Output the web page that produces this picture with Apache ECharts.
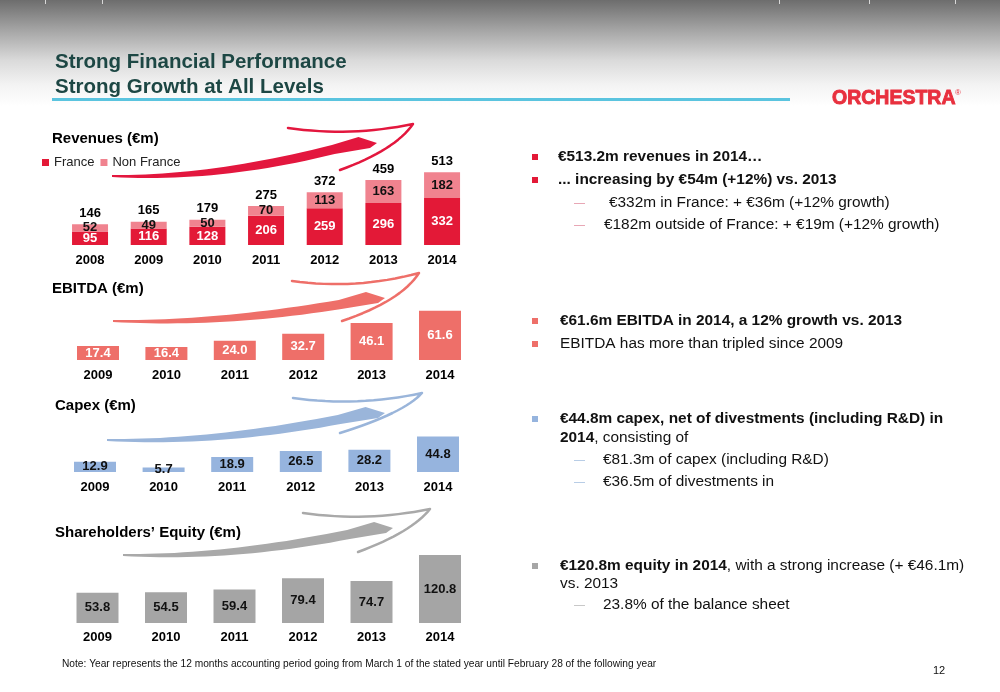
<!DOCTYPE html>
<html><head><meta charset="utf-8">
<script src="https://cdn.jsdelivr.net/npm/echarts@6/dist/echarts.min.js"></script>
<style>html,body{margin:0;padding:0;background:#fff}#c{width:1000px;height:692px}</style>
</head><body><div id="c"></div><script>
// ---- data ----
const revYears = ['2008','2009','2010','2011','2012','2013','2014'];
const revFrance = [95,116,128,206,259,296,332];
const revNonFrance = [52,49,50,70,113,163,182];
const revTotal = [146,165,179,275,372,459,513];
const years6 = ['2009','2010','2011','2012','2013','2014'];
const ebitda = [17.4,16.4,24.0,32.7,46.1,61.6];
const capex = [12.9,5.7,18.9,26.5,28.2,44.8];
const equity = [53.8,54.5,59.4,79.4,74.7,120.8];

const FONT = '"Liberation Sans", Arial, sans-serif';
const chart = echarts.init(document.getElementById('c'), null, {renderer:'canvas'});

function quad(a,c,b,n){
  const pts=[];
  for(let i=0;i<=n;i++){const t=i/n,u=1-t;
    pts.push([u*u*a[0]+2*u*t*c[0]+t*t*b[0], u*u*a[1]+2*u*t*c[1]+t*t*b[1]]);}
  return pts;
}
function swoosh(p, color){
  const [tx,ty]=p.tail, [bx,by]=p.tip, [hsx,hsy]=p.hs, [htx,hty]=p.ht, [hex,hey]=p.he;
  const W=bx-tx;
  const upper = quad([tx,ty-1],[tx+0.37*W,ty],[tx+0.83*W,by+2],24);
  const lower = quad([tx+0.84*W,by+11],[tx+0.4*W,ty+7],[tx,ty+1],24);
  const body = upper.concat([[tx+0.93*W,by-6],[bx,by],[bx-7,by+5]]).concat(lower);
  const hook = quad([hsx,hsy],[(hsx+htx)/2,Math.max(hsy,hty)+9],[htx,hty],16)
    .concat(quad([htx,hty],[htx-18,hey-20],[hex,hey],16).slice(1));
  return [
    {type:'polygon', z:1, shape:{points:body}, style:{fill:color}},
    {type:'polyline', z:1, shape:{points:hook}, style:{fill:null, stroke:color, lineWidth:2.5, lineCap:'round', lineJoin:'round'}}
  ];
}
function txt(x,y,text,opt){
  opt = opt||{};
  const st = {text:text, font:(opt.bold?'bold ':'')+(opt.size||15)+'px '+(opt.family||FONT), fill:opt.color||'#111', textVerticalAlign:'middle', textAlign:opt.align||'left'};
  if(opt.stroke){ st.stroke = opt.color; st.lineWidth = opt.stroke; }
  return {type:'text', z:5, x:x, y:y, style:st};
}
const RS = 15.4;
function rtxt(x,y,text){
  return {type:'text', z:5, x:x, y:y, style:{text:text, textVerticalAlign:'middle', fill:'#111', font:RS+'px '+FONT,
    rich:{b:{fontWeight:'bold', fontSize:RS, fontFamily:FONT, fill:'#111'}, r:{fontSize:RS, fontFamily:FONT, fill:'#111'}}}};
}
function sq(x,y,c){ return {type:'rect', z:5, shape:{x:x, y:y-3, width:6, height:6}, style:{fill:c}}; }
function dash(x,y,c){ return {type:'rect', z:5, shape:{x:x, y:y, width:11, height:1}, style:{fill:c}}; }

const graphics = [
  {type:'rect', z:0, shape:{x:0,y:0,width:1000,height:106}, style:{fill:new echarts.graphic.LinearGradient(0,0,0,1,[
    {offset:0,color:'#6d6d6d'},{offset:0.29,color:'#a6a6a6'},{offset:0.57,color:'#dadada'},{offset:0.8,color:'#f3f3f3'},{offset:1,color:'#ffffff'}])}},
  ...[45,102,779,869,955].map(x=>({type:'rect', z:1, shape:{x:x,y:0,width:1,height:4}, style:{fill:'#d8d8d8'}})),
  txt(55,62,'Strong Financial Performance',{bold:true,size:20.5,color:'#1d4744'}),
  txt(55,87,'Strong Growth at All Levels',{bold:true,size:20.5,color:'#1d4744'}),
  {type:'rect', z:2, shape:{x:52,y:98,width:738,height:3}, style:{fill:'#5bc4df'}},
  txt(832,99,'ORCHESTRA',{bold:true,size:19.5,color:'#e8303e',stroke:0.9}),
  txt(955,93,'®',{size:8,color:'#e8303e'}),
  txt(52,139,'Revenues (€m)',{bold:true,size:15,color:'#000'}),
  txt(52,289,'EBITDA (€m)',{bold:true,size:15,color:'#000'}),
  txt(55,406,'Capex (€m)',{bold:true,size:15,color:'#000'}),
  txt(55,533,'Shareholders\u2019 Equity (€m)',{bold:true,size:15,color:'#000'}),
  ...swoosh({tail:[112,176], tip:[377,143], hs:[288,128], ht:[413,124], he:[340,170]}, '#e3173e'),
  ...swoosh({tail:[113,321], tip:[385,298], hs:[292,281], ht:[419,273], he:[342,321]}, '#ee6f69'),
  ...swoosh({tail:[107,440], tip:[385,413], hs:[293,398], ht:[422,393], he:[340,433]}, '#9ab5da'),
  ...swoosh({tail:[123,555], tip:[393,528], hs:[303,513], ht:[430,509], he:[358,552]}, '#a9a9a9'),
  // right column
  sq(532,157,'#e31937'), rtxt(558,157,'{b|€513.2m revenues in 2014…}'),
  sq(532,180,'#e31937'), rtxt(558,180,'{b|... increasing by €54m (+12%) vs. 2013}'),
  dash(574,203,'#e8a7b5'), rtxt(609,203,'{r|€332m in France: + €36m (+12% growth)}'),
  dash(574,225,'#e8a7b5'), rtxt(604,225,'{r|€182m outside of France: + €19m (+12% growth)}'),
  sq(532,321,'#ee6f69'), rtxt(560,321,'{b|€61.6m EBITDA in 2014, a 12% growth vs. 2013}'),
  sq(532,344,'#ee6f69'), rtxt(560,344,'{r|EBITDA has more than tripled since 2009}'),
  sq(532,419,'#96b4de'), rtxt(560,419,'{b|€44.8m capex, net of divestments (including R&D) in}'),
  rtxt(560,438,'{b|2014}{r|, consisting of}'),
  dash(574,460,'#b8cde6'), rtxt(603,460,'{r|€81.3m of capex (including R&D)}'),
  dash(574,482,'#b8cde6'), rtxt(603,482,'{r|€36.5m of divestments in}'),
  sq(532,566,'#a6a6a6'), rtxt(560,566,'{b|€120.8m equity in 2014}{r|, with a strong increase (+ €46.1m)}'),
  rtxt(560,584,'{r|vs. 2013}'),
  dash(574,605,'#c8c8c8'), rtxt(603,605,'{r|23.8% of the balance sheet}'),
  txt(62,664,'Note: Year represents the 12 months accounting period going from March 1 of the stated year until February 28 of the following year',{size:10.2,color:'#111'}),
  txt(933,671,'12',{size:11,color:'#111'})
];

const xCommon = (gi, data, margin) => ({type:'category', gridIndex:gi, data:data,
  axisLine:{show:false}, axisTick:{show:false}, splitLine:{show:false},
  axisLabel:{fontFamily:FONT, fontWeight:'bold', fontSize:13, color:'#000', margin:margin}});
const yCommon = (gi, max) => ({type:'value', gridIndex:gi, min:0, max:max, show:false, splitLine:{show:false}});
const lbl = (color, fmt) => ({show:true, position:'inside', color:color, fontFamily:FONT, fontWeight:'bold', fontSize:13,
  formatter: fmt || (p=>p.value)});

chart.setOption({
  animation:false,
  backgroundColor:'#ffffff',
  legend:{data:['France','Non France'], left:42, top:156, icon:'rect', itemWidth:7, itemHeight:7, itemGap:6, padding:0,
    textStyle:{fontFamily:FONT, fontSize:13, color:'#222'}},
  grid:[
    {left:60.7, top:160, width:410.7, height:85},
    {left:63.8, top:300, width:410.4, height:60},
    {left:60.7, top:424.6, width:411.6, height:47.4},
    {left:63.25, top:538.5, width:411, height:84.5}
  ],
  xAxis:[xCommon(0,revYears,9), xCommon(1,years6,9), xCommon(2,years6,9), xCommon(3,years6,8)],
  yAxis:[yCommon(0,600), yCommon(1,75), yCommon(2,60), yCommon(3,150)],
  series:[
    {name:'France', type:'bar', xAxisIndex:0, yAxisIndex:0, stack:'rev', barWidth:36, data:revFrance,
      itemStyle:{color:'#e31937'}, label:lbl('#fff'), emphasis:{disabled:true}},
    {name:'Non France', type:'bar', xAxisIndex:0, yAxisIndex:0, stack:'rev', barWidth:36, data:revNonFrance,
      itemStyle:{color:'#f0838f'}, label:lbl('#111'), emphasis:{disabled:true}},
    {name:'Total', type:'scatter', xAxisIndex:0, yAxisIndex:0, data:revTotal, symbolSize:1, itemStyle:{color:'rgba(0,0,0,0)', opacity:1},
      label:{show:true, position:'top', distance:4, color:'#000', fontFamily:FONT, fontWeight:'bold', fontSize:13}, emphasis:{disabled:true}},
    {name:'EBITDA', type:'bar', xAxisIndex:1, yAxisIndex:1, barWidth:42, data:ebitda,
      itemStyle:{color:'#ee6f69'}, label:lbl('#fff', p=>p.value.toFixed(1)), emphasis:{disabled:true}},
    {name:'Capex', type:'bar', xAxisIndex:2, yAxisIndex:2, barWidth:42, data:capex,
      itemStyle:{color:'#96b4de'}, label:lbl('#111', p=>p.value.toFixed(1)), emphasis:{disabled:true}},
    {name:'Equity', type:'bar', xAxisIndex:3, yAxisIndex:3, barWidth:42, data:equity,
      itemStyle:{color:'#a5a5a5'}, label:lbl('#111', p=>p.value.toFixed(1)), emphasis:{disabled:true}}
  ],
  graphic:graphics
});
</script></body></html>
